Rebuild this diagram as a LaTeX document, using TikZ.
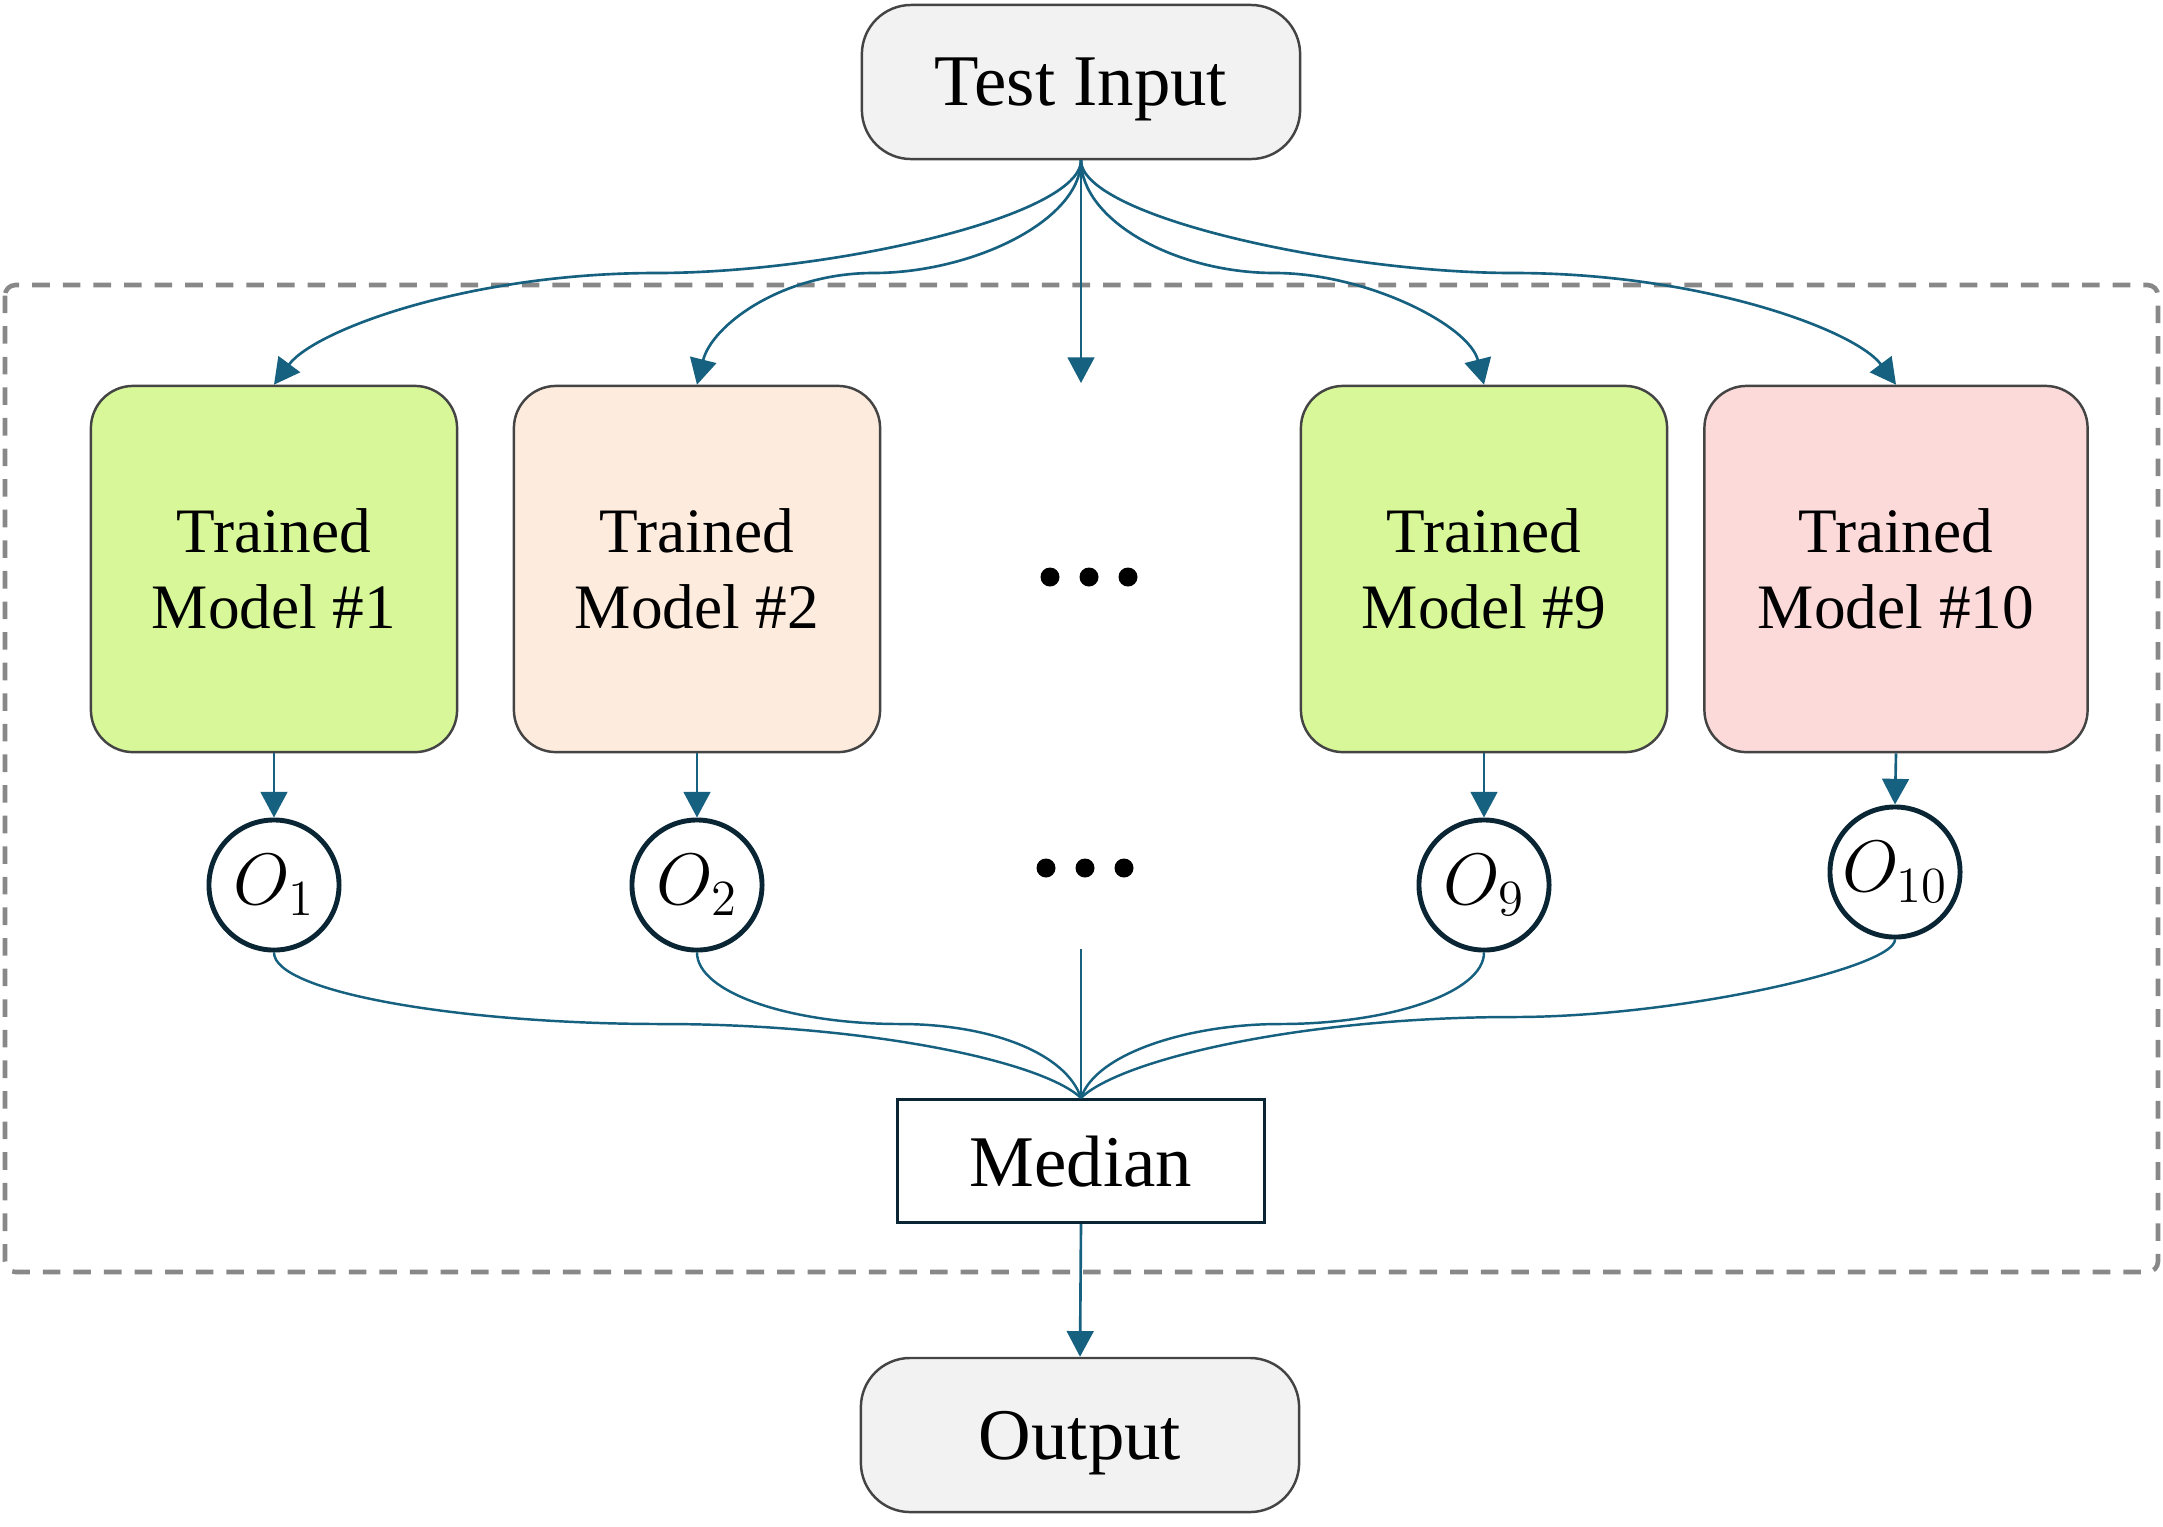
\documentclass[tikz,border=0pt]{standalone}
\usepackage{fontspec}
\setmainfont{Liberation Serif}
\usetikzlibrary{arrows.meta}

\definecolor{azul}{RGB}{22,96,128}
\definecolor{borde}{RGB}{68,68,68}
\definecolor{gris}{RGB}{242,242,242}
\definecolor{verde}{RGB}{215,247,153}
\definecolor{durazno}{RGB}{253,235,222}
\definecolor{rosa}{RGB}{252,218,218}
\definecolor{oscuro}{RGB}{10,38,52}
\definecolor{punteado}{RGB}{136,136,136}

\tikzset{
  caja/.style={draw=borde,line width=0.7pt,rounded corners=14pt,fill=gris,text depth=0pt,
    minimum width=4.38cm,minimum height=1.54cm,font=\fontsize{20.7}{24}\selectfont},
  modelo/.style={draw=borde,line width=0.7pt,rounded corners=12pt,align=center,
    minimum width=3.66cm,minimum height=3.66cm,font=\fontsize{18}{21.6}\selectfont},
  salida/.style={draw=oscuro,circle,line width=1.4pt,minimum size=1.3cm,inner sep=0pt,
    font=\fontsize{20.74}{24}\selectfont},
  flecha/.style={draw=azul,line width=0.75pt,-{Triangle[length=7.3pt,width=7.6pt]}},
  linea/.style={draw=azul,line width=0.7pt},
}

\begin{document}
\begin{tikzpicture}[x=0.01cm,y=-0.01cm]
\useasboundingbox (0,0) rectangle (2163,1526);
    %Recuadro punteado
    \draw[punteado,line width=1.3pt,dash pattern=on 5pt off 3.7pt,rounded corners=3pt] (5,285) rectangle (2158,1272);

    %Cajas
    \node[caja] (test) at (1081,82) {Test Input};
    \node[modelo,fill=verde] (m1) at (274,569) {Trained\\Model \#1};
    \node[modelo,fill=durazno] (m2) at (697,569) {Trained\\Model \#2};
    \node[modelo,fill=verde] (m9) at (1484,569) {Trained\\Model \#9};
    \node[modelo,fill=rosa,minimum width=3.83cm] (m10) at (1896,569) {Trained\\Model \#10};
    \node[draw=oscuro,line width=0.9pt,minimum width=3.66cm,minimum height=1.23cm,text depth=0pt,
      font=\fontsize{20.7}{24}\selectfont] (median) at (1081,1161) {Median};
    \node[caja] (out) at (1080,1435) {Output};

    %Salidas
    \node[salida] (o1) at (274,885) {$O_1$};
    \node[salida] (o2) at (697,885) {$O_2$};
    \node[salida] (o9) at (1484,885) {$O_9$};
    \node[salida] (o10) at (1895,872) {$O_{10}$};

    %Puntos suspensivos
    \foreach \x in {-39,0,39}{
        \fill (1089+\x,577) circle (2.7pt);
        \fill (1085+\x,868) circle (2.7pt);
    }

    %Puntos de paso
    \coordinate (w1) at (656,273);
    \coordinate (w2) at (873,273);
    \coordinate (w9) at (1275,273);
    \coordinate (w10) at (1514,273);
    \coordinate (tip) at (1081,383);
    \coordinate (v1) at (662,1024);
    \coordinate (v2) at (900,1024);
    \coordinate (v9) at (1280,1024);
    \coordinate (v10) at (1514,1017);
    \coordinate (mid) at (1081,949);

    %Entrada a modelos
    \draw[flecha] (test.south) .. controls +(0,56) and +(175,0) .. (w1) .. controls +(-186,0) and +(41,-55) .. (m1.north);
    \draw[flecha] (test.south) .. controls +(0,60) and +(100,0) .. (w2) .. controls +(-90,0) and +(15,-60) .. (m2.north);
    \draw[flecha] (test.south) -- (tip);
    \draw[flecha] (test.south) .. controls +(0,60) and +(-100,0) .. (w9) .. controls +(90,0) and +(-15,-60) .. (m9.north);
    \draw[flecha] (test.south) .. controls +(0,56) and +(-175,0) .. (w10) .. controls +(186,0) and +(-41,-55) .. (m10.north);

    %Modelos a salidas
    \foreach \i in {1,2,9,10}{
        \draw[flecha] (m\i.south) -- (o\i.north);
    }

    %Salidas a mediana
    \draw[linea] (o1.south) .. controls +(0,40) and +(-200,0) .. (v1) .. controls +(200,0) and +(-41,-38) .. (median.north);
    \draw[linea] (o2.south) .. controls +(0,40) and +(-110,0) .. (v2) .. controls +(90,0) and +(-15,-45) .. (median.north);
    \draw[linea] (mid) -- (median.north);
    \draw[linea] (o9.south) .. controls +(0,40) and +(110,0) .. (v9) .. controls +(-90,0) and +(15,-45) .. (median.north);
    \draw[linea] (o10.south) .. controls +(0,28) and +(166,0) .. (v10) .. controls +(-214,0) and +(39,-38) .. (median.north);

    \draw[flecha] (median.south) -- (out.north);
\end{tikzpicture}
\end{document}
